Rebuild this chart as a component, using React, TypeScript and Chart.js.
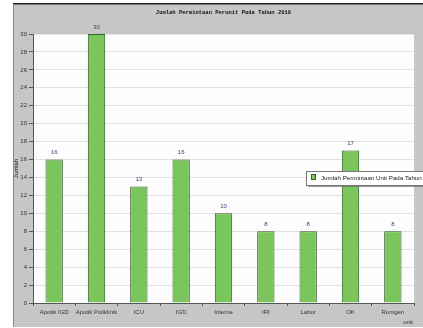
import { useEffect, useRef } from 'react';
import { Chart, registerables } from 'chart.js';

Chart.register(...registerables);

const chartTitle = 'Jumlah Permintaan Perunit Pada Tahun 2018';
const seriesLabel = 'Jumlah Permintaan Unit Pada Tahun 2018';
const categories = ['Apotik IGD', 'Apotik Poliklinik', 'ICU', 'IGD', 'Interne', 'IRI', 'Labor', 'OK', 'Rontgen'];
const values = [16, 30, 13, 16, 10, 8, 8, 17, 8];
const yAxisTitle = 'Jumlah';
const xAxisTitle = 'unit';

const GREEN = 'rgb(122,198,92)';
const GREEN_BORDER = 'rgb(52,96,44)';

const decorPlugin = {
  id: 'decor',
  beforeDraw(chart: any) {
    const { ctx, chartArea } = chart;
    ctx.save();
    ctx.fillStyle = '#ffffff';
    ctx.fillRect(0, 0, chart.width, chart.height);
    ctx.fillStyle = 'rgb(198,198,198)';
    ctx.fillRect(13, 4, chart.width - 13, 323);
    ctx.fillStyle = '#222';
    ctx.fillRect(13, 3, chart.width - 13, 1.5);
    ctx.fillStyle = '#888';
    ctx.fillRect(13, 4, 1, 323);
    ctx.fillStyle = '#fdfdfd';
    ctx.fillRect(chartArea.left, chartArea.top, chartArea.right - chartArea.left, chartArea.bottom - chartArea.top);
    ctx.restore();
  },
  afterDraw(chart: any) {
    const { ctx, chartArea } = chart;
    ctx.save();
    // title
    ctx.fillStyle = '#111';
    ctx.font = 'bold 5.5px "Liberation Mono"';
    ctx.textAlign = 'center';
    ctx.textBaseline = 'middle';
    ctx.fillText(chartTitle, (chartArea.left + chartArea.right) / 2, 13);
    // value labels
    const meta = chart.getDatasetMeta(0);
    ctx.fillStyle = '#3a3a80';
    ctx.font = '6px "Liberation Sans"';
    meta.data.forEach((bar: any, i: number) => {
      ctx.fillText(String(values[i]), bar.x, bar.y - 7);
    });
    // axis titles
    ctx.fillStyle = '#111';
    ctx.font = '6px "Liberation Sans"';
    ctx.save();
    ctx.translate(16, (chartArea.top + chartArea.bottom) / 2);
    ctx.rotate(-Math.PI / 2);
    ctx.fillText(yAxisTitle, 0, 0);
    ctx.restore();
    ctx.fillStyle = '#333';
    ctx.fillText(xAxisTitle, 408, 322);
    // legend
    const lx = 306, ly = 171, lw = 130, lh = 14;
    ctx.fillStyle = 'rgba(110,110,110,0.7)';
    ctx.fillRect(lx + 2, ly + 2, lw, lh);
    ctx.fillStyle = '#ffffff';
    ctx.fillRect(lx, ly, lw, lh);
    ctx.strokeStyle = '#777';
    ctx.lineWidth = 1;
    ctx.strokeRect(lx + 0.5, ly + 0.5, lw, lh);
    ctx.fillStyle = GREEN;
    ctx.fillRect(311, 174, 5, 6);
    ctx.strokeStyle = GREEN_BORDER;
    ctx.strokeRect(311.5, 174.5, 4, 5);
    ctx.fillStyle = '#222';
    ctx.textAlign = 'left';
    ctx.font = '6.2px "Liberation Sans"';
    ctx.fillText(seriesLabel, 321, 178);
    ctx.restore();
  },
};

export default function App() {
  const ref = useRef<HTMLCanvasElement | null>(null);
  useEffect(() => {
    if (!ref.current) return;
    const chart = new Chart(ref.current, {
      type: 'bar',
      data: {
        labels: categories,
        datasets: [
          {
            label: seriesLabel,
            data: values,
            backgroundColor: GREEN,
            borderColor: GREEN_BORDER,
            borderWidth: 1,
            barPercentage: 0.41,
            categoryPercentage: 1,
          },
        ],
      },
      options: {
        responsive: false,
        animation: false,
        devicePixelRatio: 1,
        layout: { padding: { left: 13, top: 34, right: 9, bottom: 0 } },
        plugins: { legend: { display: false }, title: { display: false }, tooltip: { enabled: false } },
        scales: {
          x: {
            offset: true,
            afterFit(scale: any) { scale.height = 25; },
            grid: { display: true, offset: true, drawOnChartArea: false, drawTicks: true, tickLength: 3, color: '#555' },
            border: { display: true, color: '#555' },
            ticks: { color: '#333', font: { size: 6, family: 'Liberation Sans' }, padding: 3, maxRotation: 0, autoSkip: false },
          },
          y: {
            min: 0,
            max: 30,
            afterFit(scale: any) { scale.width = 20; },
            grid: { color: '#e2e2e2', tickLength: 4, tickColor: '#555' } as any,
            border: { display: true, color: '#555' },
            ticks: { stepSize: 2, color: '#333', font: { size: 6, family: 'Liberation Sans' }, padding: 2 },
          },
        },
      },
      plugins: [decorPlugin],
    });
    return () => chart.destroy();
  }, []);
  return (
    <div style={{ position: 'absolute', left: 0, top: 0 }}>
      <canvas ref={ref} width={423} height={328} style={{ display: 'block', width: 423, height: 328 }} />
    </div>
  );
}
